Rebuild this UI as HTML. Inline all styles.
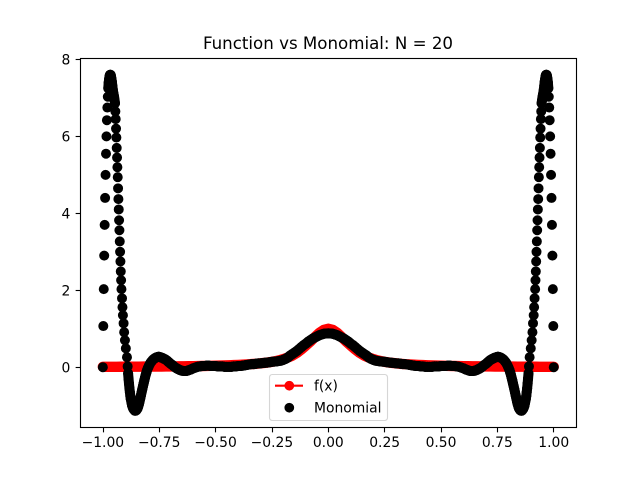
<!DOCTYPE html>
<html>
<head>
<meta charset="utf-8">
<title>Function vs Monomial: N = 20</title>
<style>
html,body{margin:0;padding:0;background:#fff;width:640px;height:480px;overflow:hidden}
svg{display:block}
text{font-family:"DejaVu Sans","Liberation Sans",sans-serif;fill:#000}
</style>
</head>
<body>
<svg id="chart" xmlns="http://www.w3.org/2000/svg" width="640" height="480" viewBox="0 0 640 480">
<rect x="0" y="0" width="640" height="480" fill="#fff"/>
<text x="328" y="49" font-size="16.67" text-anchor="middle">Function vs Monomial: N = 20</text>
<g id="series"></g>
<g id="axes"></g>
<g>
<rect x="269.5" y="374.5" width="118" height="46" rx="2.8" ry="2.8" fill="#fff" fill-opacity="0.8" stroke="#ccc" stroke-opacity="0.8" stroke-width="1.11"/>
<line x1="275" y1="385.7" x2="303" y2="385.7" stroke="#f00" stroke-width="2.08"/>
<circle cx="289.3" cy="385.7" r="4.17" fill="#f00" stroke="#f00" stroke-width="1.39"/>
<text x="314" y="390.5" font-size="13.89">f(x)</text>
<circle cx="289.3" cy="407.7" r="4.17" fill="#000" stroke="#000" stroke-width="1.39"/>
<text x="314" y="412.5" font-size="13.89">Monomial</text>
</g>
</svg>
<script>
var xTickValues = [-1, -0.75, -0.5, -0.25, 0, 0.25, 0.5, 0.75, 1];
var xTickLabels = ["\u22121.00", "\u22120.75", "\u22120.50", "\u22120.25", "0.00", "0.25", "0.50", "0.75", "1.00"];
var yTickValues = [0, 2, 4, 6, 8];
var yTickLabels = ["0", "2", "4", "6", "8"];

var functionX = [-1,-0.98,-0.96,-0.94,-0.92,-0.9,-0.88,-0.86,-0.84,-0.82,-0.8,-0.78,-0.76,-0.74,-0.72,-0.7,-0.68,-0.66,-0.64,-0.62,-0.6,-0.58,-0.56,-0.54,-0.52,-0.5,-0.48,-0.46,-0.44,-0.42,-0.4,-0.38,-0.36,-0.34,-0.32,-0.3,-0.28,-0.26,-0.24,-0.22,-0.2,-0.18,-0.16,-0.14,-0.12,-0.1,-0.08,-0.06,-0.04,-0.02,0,0.02,0.04,0.06,0.08,0.1,0.12,0.14,0.16,0.18,0.2,0.22,0.24,0.26,0.28,0.3,0.32,0.34,0.36,0.38,0.4,0.42,0.44,0.46,0.48,0.5,0.52,0.54,0.56,0.58,0.6,0.62,0.64,0.66,0.68,0.7,0.72,0.74,0.76,0.78,0.8,0.82,0.84,0.86,0.88,0.9,0.92,0.94,0.96,0.98,1];
var functionY = [0.01,0.01,0.011,0.011,0.012,0.012,0.013,0.013,0.014,0.015,0.015,0.016,0.017,0.018,0.019,0.02,0.021,0.022,0.024,0.025,0.027,0.029,0.031,0.033,0.036,0.038,0.042,0.045,0.049,0.054,0.059,0.065,0.072,0.08,0.089,0.1,0.113,0.13,0.15,0.175,0.21,0.25,0.3,0.37,0.46,0.56,0.665,0.78,0.89,0.97,1,0.97,0.89,0.78,0.665,0.56,0.46,0.37,0.3,0.25,0.21,0.175,0.15,0.13,0.113,0.1,0.089,0.08,0.072,0.065,0.059,0.054,0.049,0.045,0.042,0.038,0.036,0.033,0.031,0.029,0.027,0.025,0.024,0.022,0.021,0.02,0.019,0.018,0.017,0.016,0.015,0.015,0.014,0.013,0.013,0.012,0.012,0.011,0.011,0.01,0.01];

var monomialX = [-1,-0.998,-0.996,-0.994,-0.992,-0.99,-0.988,-0.986,-0.984,-0.982,-0.98,-0.978,-0.976,-0.974,-0.972,-0.97,-0.968,-0.966,-0.964,-0.962,-0.96,-0.958,-0.956,-0.954,-0.952,-0.95,-0.948,-0.946,-0.9445,-0.943,-0.9415,-0.94,-0.9385,-0.937,-0.9355,-0.934,-0.9325,-0.931,-0.9295,-0.928,-0.9265,-0.925,-0.9235,-0.922,-0.9205,-0.919,-0.9175,-0.915,-0.913,-0.911,-0.908,-0.9055,-0.902,-0.898,-0.893,-0.89,-0.888,-0.886,-0.884,-0.882,-0.88,-0.878,-0.876,-0.873,-0.87,-0.867,-0.864,-0.861,-0.858,-0.855,-0.852,-0.849,-0.846,-0.843,-0.84,-0.837,-0.834,-0.831,-0.828,-0.825,-0.822,-0.819,-0.816,-0.813,-0.81,-0.807,-0.804,-0.8,-0.796,-0.792,-0.788,-0.784,-0.78,-0.775,-0.77,-0.765,-0.76,-0.755,-0.75,-0.745,-0.74,-0.735,-0.73,-0.725,-0.72,-0.715,-0.71,-0.705,-0.7,-0.695,-0.69,-0.685,-0.68,-0.675,-0.67,-0.665,-0.66,-0.65,-0.64,-0.63,-0.62,-0.61,-0.6,-0.59,-0.58,-0.57,-0.56,-0.55,-0.54,-0.53,-0.52,-0.51,-0.5,-0.49,-0.48,-0.47,-0.46,-0.45,-0.44,-0.43,-0.42,-0.41,-0.4,-0.39,-0.38,-0.37,-0.36,-0.35,-0.34,-0.33,-0.32,-0.31,-0.3,-0.29,-0.28,-0.27,-0.26,-0.25,-0.24,-0.23,-0.22,-0.21,-0.2,-0.19,-0.18,-0.17,-0.16,-0.15,-0.14,-0.13,-0.12,-0.11,-0.1,-0.09,-0.08,-0.07,-0.06,-0.05,-0.04,-0.03,-0.02,-0.01,0,
0.01,0.02,0.03,0.04,0.05,0.06,0.07,0.08,0.09,0.1,0.11,0.12,0.13,0.14,0.15,0.16,0.17,0.18,0.19,0.2,0.21,0.22,0.23,0.24,0.25,0.26,0.27,0.28,0.29,0.3,0.31,0.32,0.33,0.34,0.35,0.36,0.37,0.38,0.39,0.4,0.41,0.42,0.43,0.44,0.45,0.46,0.47,0.48,0.49,0.5,0.51,0.52,0.53,0.54,0.55,0.56,0.57,0.58,0.59,0.6,0.61,0.62,0.63,0.64,0.65,0.66,0.665,0.67,0.675,0.68,0.685,0.69,0.695,0.7,0.705,0.71,0.715,0.72,0.725,0.73,0.735,0.74,0.745,0.75,0.755,0.76,0.765,0.77,0.775,0.78,0.784,0.788,0.792,0.796,0.8,0.804,0.807,0.81,0.813,0.816,0.819,0.822,0.825,0.828,0.831,0.834,0.837,0.84,0.843,0.846,0.849,0.852,0.855,0.858,0.861,0.864,0.867,0.87,0.873,0.876,0.878,0.88,0.882,0.884,0.886,0.888,0.89,0.893,0.898,0.902,0.9055,0.908,0.911,0.913,0.915,0.9175,0.919,0.9205,0.922,0.9235,0.925,0.9265,0.928,0.9295,0.931,0.9325,0.934,0.9355,0.937,0.9385,0.94,0.9415,0.943,0.9445,0.946,0.948,0.95,0.952,0.954,0.956,0.958,0.96,0.962,0.964,0.966,0.968,0.97,0.972,0.974,0.976,0.978,0.98,0.982,0.984,0.986,0.988,0.99,0.992,0.994,0.996,0.998,1];
var monomialY = [0,1.07,2.03,2.9,3.7,4.4,5,5.55,6,6.42,6.75,7.03,7.25,7.4,7.5,7.57,7.6,7.6,7.57,7.5,7.42,7.32,7.22,7.14,7.08,7.02,6.94,6.86,6.65,6.45,6.2,5.97,5.7,5.45,5.2,4.94,4.65,4.37,4.1,3.82,3.56,3.27,3,2.75,2.49,2.26,2.03,1.79,1.56,1.35,1.14,0.91,0.7,0.49,0.26,0.02,-0.16,-0.3,-0.43,-0.55,-0.65,-0.75,-0.83,-0.92,-1,-1.05,-1.09,-1.11,-1.13,-1.13,-1.12,-1.1,-1.07,-1.02,-0.96,-0.89,-0.81,-0.73,-0.65,-0.57,-0.49,-0.42,-0.34,-0.27,-0.2,-0.14,-0.08,-0.02,0.03,0.08,0.12,0.15,0.18,0.21,0.23,0.25,0.26,0.27,0.27,0.26,0.25,0.24,0.22,0.21,0.19,0.17,0.14,0.12,0.09,0.07,0.05,0.02,0,-0.02,-0.04,-0.05,-0.07,-0.09,-0.1,-0.1,-0.08,-0.06,-0.03,-0.01,0.01,0.02,0.03,0.03,0.04,0.04,0.03,0.03,0.03,0.02,0.02,0.02,0.01,0.01,0.01,0.01,0.02,0.02,0.03,0.03,0.04,0.05,0.06,0.07,0.08,0.08,0.09,0.1,0.1,0.11,0.115,0.12,0.13,0.14,0.145,0.15,0.16,0.17,0.19,0.215,0.25,0.3,0.34,0.38,0.42,0.47,0.52,0.57,0.61,0.66,0.7,0.74,0.77,0.8,0.83,0.85,0.87,0.875,0.88,
0.875,0.87,0.85,0.83,0.8,0.77,0.74,0.7,0.66,0.61,0.57,0.52,0.47,0.42,0.38,0.34,0.3,0.25,0.215,0.19,0.17,0.16,0.15,0.145,0.14,0.13,0.12,0.115,0.11,0.1,0.1,0.09,0.08,0.08,0.07,0.06,0.05,0.04,0.03,0.03,0.02,0.02,0.01,0.01,0.01,0.01,0.02,0.02,0.02,0.03,0.03,0.03,0.04,0.04,0.03,0.03,0.02,0.01,-0.01,-0.03,-0.06,-0.08,-0.1,-0.1,-0.09,-0.07,-0.05,-0.04,-0.02,0,0.02,0.05,0.07,0.09,0.12,0.14,0.17,0.19,0.21,0.22,0.24,0.25,0.26,0.27,0.27,0.26,0.25,0.23,0.21,0.18,0.15,0.12,0.08,0.03,-0.02,-0.08,-0.14,-0.2,-0.27,-0.34,-0.42,-0.49,-0.57,-0.65,-0.73,-0.81,-0.89,-0.96,-1.02,-1.07,-1.1,-1.12,-1.13,-1.13,-1.11,-1.09,-1.05,-1,-0.92,-0.83,-0.75,-0.65,-0.55,-0.43,-0.3,-0.16,0.02,0.26,0.49,0.7,0.91,1.14,1.35,1.56,1.79,2.03,2.26,2.49,2.75,3,3.27,3.56,3.82,4.1,4.37,4.65,4.94,5.2,5.45,5.7,5.97,6.2,6.45,6.65,6.86,6.94,7.02,7.08,7.14,7.22,7.32,7.42,7.5,7.57,7.6,7.6,7.57,7.5,7.4,7.25,7.03,6.75,6.42,6,5.55,5,4.4,3.7,2.9,2.03,1.07,0];

var SVG_NS = "http://www.w3.org/2000/svg";
var axLeft = 80.5, axRight = 576.5, axTop = 58.5, axBottom = 427.5;
var markerOuterWidth = 10;

function xScale(v) { return 328.3 + v * 225.45; }
function yScale(v) { return 367.2 - v * 38.47; }

function make(tag, attrs, parent) {
  var el = document.createElementNS(SVG_NS, tag);
  for (var k in attrs) { el.setAttribute(k, attrs[k]); }
  parent.appendChild(el);
  return el;
}

var seriesGroup = document.getElementById("series");
var axesGroup = document.getElementById("axes");

var pts = functionX.map(function (x, i) { return xScale(x) + "," + yScale(functionY[i]); }).join(" ");
var fBand = make("polyline", { points: pts, fill: "none", stroke: "#f00", "stroke-width": 10.4, "stroke-linejoin": "round", "stroke-linecap": "round" }, seriesGroup);



monomialX.forEach(function (x, i) {
  if (i > 0) {
    var x0 = xScale(monomialX[i - 1]), y0 = yScale(monomialY[i - 1]);
    var x1 = xScale(x), y1 = yScale(monomialY[i]);
    if (Math.hypot(x1 - x0, y1 - y0) < 6.5) {
      var s = make("line", { x1: x0, y1: y0, x2: x1, y2: y1, stroke: "#000", "stroke-width": markerOuterWidth, "stroke-linecap": "round" }, seriesGroup);
      
      
    }
  }
  var c = make("circle", { cx: xScale(x), cy: yScale(monomialY[i]), r: 4.3, fill: "#000", stroke: "#000", "stroke-width": 1.4 }, seriesGroup);
  
  
});

xTickValues.forEach(function (v, i) {
  var px = Math.round(xScale(v) - 0.3) + 0.5;
  var t = make("line", { x1: px, y1: axBottom, x2: px, y2: axBottom + 4.86, stroke: "#000", "stroke-width": 1.11 }, axesGroup);
  
  
  var l = make("text", { x: xScale(v), y: 447, "font-size": 13.89, "text-anchor": "middle" }, axesGroup);
  l.textContent = xTickLabels[i];
  
  
});

yTickValues.forEach(function (v, i) {
  var py = Math.floor(yScale(v)) + 0.5;
  var t = make("line", { x1: axLeft - 4.86, y1: py, x2: axLeft, y2: py, stroke: "#000", "stroke-width": 1.11 }, axesGroup);
  
  
  var l = make("text", { x: 70.3, y: py + 5, "font-size": 13.89, "text-anchor": "end" }, axesGroup);
  l.textContent = yTickLabels[i];
  
  
});

var frame = make("rect", { x: axLeft, y: axTop, width: axRight - axLeft, height: axBottom - axTop, fill: "none", stroke: "#000", "stroke-width": 1.11 }, axesGroup);


</script>
</body>
</html>
